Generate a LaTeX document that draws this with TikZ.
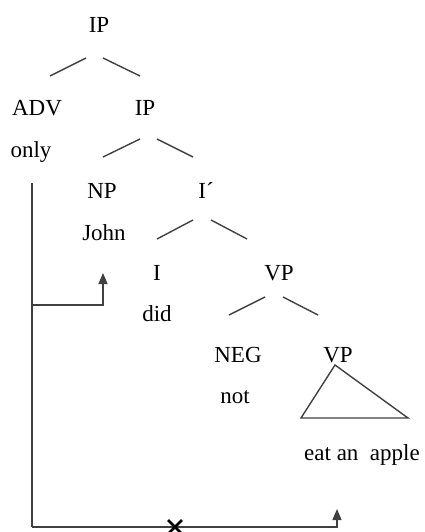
\documentclass[tikz,border=0pt]{standalone}
\usepackage{fontspec}
\setmainfont{Liberation Serif}
\usetikzlibrary{arrows.meta,calc}
\begin{document}
\begin{tikzpicture}[x=1pt,y=-1pt,
  lbl/.style={font=\fontsize{23}{26}\selectfont, text=black, anchor=base, inner sep=0pt},
  br/.style={draw=black!75, line width=1.4pt},
  mv/.style={draw=black!75, line width=1.4pt, -{Triangle[width=9pt,length=11pt]}}]
\useasboundingbox (0,0) rectangle (424,532);
% labels
\node[lbl] (ip1) at (99,33) {IP};
\node[lbl] (adv) at (37,115) {ADV};
\node[lbl] (only) at (31,157) {only};
\node[lbl] (ip2) at (145,115) {IP};
\node[lbl] (np) at (102,198) {NP};
\node[lbl] (john) at (104,240) {John};
\node[lbl] (ib) at (206,198) {I´};
\node[lbl] (i) at (157,280) {I};
\node[lbl] (did) at (157,321) {did};
\node[lbl] (vp1) at (279,280) {VP};
\node[lbl] (neg) at (238,362) {NEG};
\node[lbl] (not) at (235,403) {not};
\node[lbl] (vp2) at (338,362) {VP};
\node[lbl] (eat) at (362,460) {eat an\ \ apple};
% branches
\draw[br] (50,76) -- (86,58);
\draw[br] (103,58) -- (140,76);
\draw[br] (103,157) -- (140,139);
\draw[br] (157,139) -- (193,157);
\draw[br] (157,239) -- (193,220);
\draw[br] (211,220) -- (247,239);
\draw[br] (229,315) -- (265,297);
\draw[br] (283,297) -- (318,315);
% triangle
\draw[br, line join=miter] (335,365) -- (301,418) -- (408,418) -- cycle;
% movement lines
\coordinate (top) at (32,183);
\coordinate (mid) at (32,305);
\coordinate (bot) at (32,527);
\coordinate (npc) at (103,305);
\coordinate (npt) at (103,273);
\coordinate (vpc) at (337,527);
\coordinate (vpt) at (337,509);
\draw[br] (top) -- (bot);
\draw[mv] (mid) -- (npc) -- (npt);
\draw[mv] (bot) -- (vpc) -- (vpt);
% cross
\coordinate (x) at (175,527);
\draw[black, line width=2.6pt] ($(x)+(-7,-7)$) -- ($(x)+(7,7)$);
\draw[black, line width=2.6pt] ($(x)+(-7,7)$) -- ($(x)+(7,-7)$);
\end{tikzpicture}
\end{document}
